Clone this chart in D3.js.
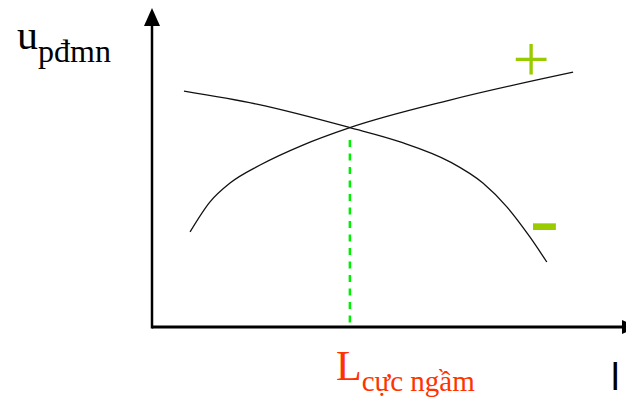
<!DOCTYPE html>
<html>
<head>
<meta charset="utf-8">
<script src="https://cdn.jsdelivr.net/npm/d3@7"></script>
<style>
  body { margin: 0; background: #fff; }
  svg { display: block; }
</style>
</head>
<body>
<svg id="chart" width="626" height="399"></svg>
<script>
// curve points, in axis units (0..100 on both axes)
const rising_x = [8.1, 12.3, 16.6, 23.0, 32.1, 42.1, 63.4, 89.6];
const rising_y = [30.0, 39.4, 45.4, 51.1, 57.4, 62.9, 71.6, 80.4];
const falling_x = [6.8, 22.3, 42.1, 52.8, 63.4, 70.4, 75.5, 80.4, 84.0];
const falling_y = [74.4, 70.3, 62.9, 58.4, 52.1, 45.4, 37.9, 28.4, 20.5];
const cross_x = 42.1;
const dash_top = 59.0;

const svg = d3.select("#chart");

const x = d3.scaleLinear().domain([0, 100]).range([152, 622]);
const y = d3.scaleLinear().domain([0, 100]).range([327, 10]);

const line = d3.line()
    .x(d => x(d[0]))
    .y(d => y(d[1]))
    .curve(d3.curveMonotoneX);

// axes
svg.append("line")
    .attr("x1", x(0)).attr("y1", y(0) + 1.5)
    .attr("x2", x(0)).attr("y2", y(100) + 12)
    .attr("stroke", "black").attr("stroke-width", 2.5);
svg.append("path")
    .attr("d", `M${x(0) - 8},${y(100) + 16}L${x(0)},${y(100) - 2}L${x(0) + 8},${y(100) + 16}Z`)
    .attr("fill", "black");

svg.append("line")
    .attr("x1", x(0)).attr("y1", y(0))
    .attr("x2", x(100)).attr("y2", y(0))
    .attr("stroke", "black").attr("stroke-width", 3);
svg.append("path")
    .attr("d", `M${x(100)},${y(0) - 7}L${x(100) + 16},${y(0)}L${x(100)},${y(0) + 7}Z`)
    .attr("fill", "black");

// dashed marker at crossing
svg.append("line")
    .attr("x1", x(cross_x)).attr("y1", y(dash_top))
    .attr("x2", x(cross_x)).attr("y2", y(0))
    .attr("stroke", "#00ee00")
    .attr("stroke-width", 2.5)
    .attr("stroke-dasharray", "7,6.5");

// curves
svg.append("path")
    .datum(d3.zip(rising_x, rising_y))
    .attr("d", line)
    .attr("fill", "none").attr("stroke", "#111").attr("stroke-width", 1.3);
svg.append("path")
    .datum(d3.zip(falling_x, falling_y))
    .attr("d", line)
    .attr("fill", "none").attr("stroke", "#111").attr("stroke-width", 1.3);

// labels
const serif = "Liberation Serif, Times New Roman, serif";

const ylab = svg.append("text")
    .attr("x", 17).attr("y", 49)
    .style("font-family", serif).attr("font-size", 42);
ylab.append("tspan").text("u");
ylab.append("tspan").attr("dy", 13).attr("font-size", 32).text("pđmn");

const xlab = svg.append("text")
    .attr("x", 336).attr("y", 380)
    .style("font-family", serif).attr("font-size", 42)
    .attr("fill", "#ff3300");
xlab.append("tspan").text("L");
xlab.append("tspan").attr("dy", 11).attr("font-size", 29).text("cực ngầm");

svg.append("text")
    .attr("x", 611).attr("y", 390)
    .style("font-family", "Liberation Sans, Arial, sans-serif")
    .attr("font-size", 38)
    .text("l");

svg.append("text")
    .attr("x", 531).attr("y", 81)
    .attr("text-anchor", "middle")
    .style("font-family", serif).attr("font-size", 66)
    .attr("fill", "#99cc00")
    .text("+");

svg.append("text")
    .attr("x", 544.5).attr("y", 248)
    .attr("text-anchor", "middle")
    .style("font-family", serif).attr("font-size", 88)
    .attr("fill", "#99cc00")
    .text("-");
</script>
</body>
</html>
